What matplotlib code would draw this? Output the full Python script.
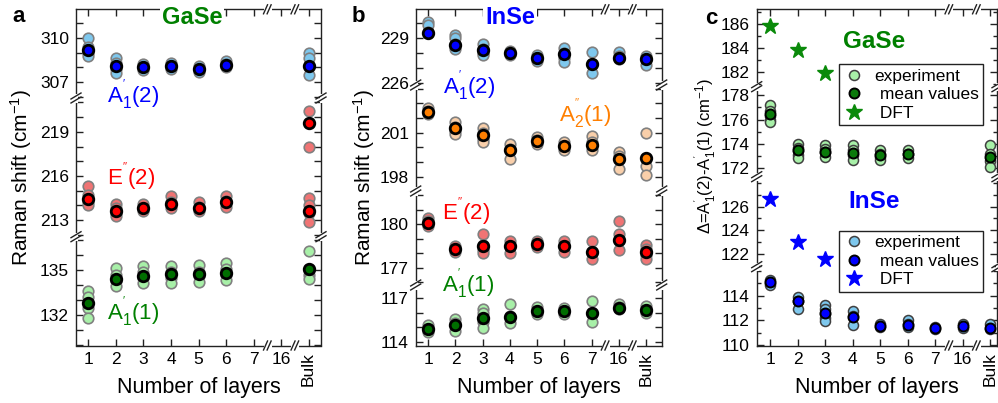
import matplotlib
matplotlib.use('Agg')
import matplotlib.pyplot as plt
from matplotlib.lines import Line2D
import numpy as np

plt.rcParams['font.family'] = ['Liberation Sans', 'DejaVu Sans']
plt.rcParams['mathtext.fontset'] = 'custom'
plt.rcParams['mathtext.rm'] = 'Liberation Sans'
plt.rcParams['mathtext.it'] = 'Liberation Sans:italic'
plt.rcParams['mathtext.bf'] = 'Liberation Sans:bold'

# ---------------- data ----------------
x_tick_labels = ['1', '2', '3', '4', '5', '6', '7', '16', 'Bulk']
x_tick_pos = [1, 2, 3, 4, 5, 6, 7, 8, 9]

gase_layers = [1, 2, 3, 4, 5, 6, 9]
inse_layers = [1, 2, 3, 4, 5, 6, 7, 8, 9]

# GaSe A1'(2)
gase_a12_exp = [[310.0, 309.4, 309.0, 308.8], [308.6, 308.3, 307.9, 307.6], [308.2, 308.0, 307.8],
                [308.3, 308.1, 307.9], [308.1, 307.9, 307.7], [308.4, 308.2, 308.0],
                [309.0, 308.6, 308.1, 307.5]]
gase_a12_mean = [309.2, 308.1, 308.0, 308.1, 307.9, 308.15, 308.1]
# GaSe E''(2)
gase_e2_exp = [[215.3, 214.7, 214.2, 214.0], [214.1, 213.8, 213.5, 213.3], [214.1, 213.8, 213.6],
               [214.65, 214.2, 213.8], [214.2, 213.9, 213.6], [214.65, 214.3, 213.9],
               [214.5, 214.0, 213.5, 212.9]]
gase_e2_mean = [214.45, 213.6, 213.85, 214.1, 213.8, 214.2, 213.6]
gase_e2_bulk_hi_exp = [220.45, 217.95]
gase_e2_bulk_hi_mean = 219.58
# GaSe A1'(1)
gase_a11_exp = [[133.6, 133.2, 132.5, 131.8], [135.15, 134.7, 134.3, 133.95], [135.3, 134.9, 134.5, 134.15],
                [135.3, 134.9, 134.5, 134.15], [135.35, 134.9, 134.6, 134.25], [135.5, 135.1, 134.7, 134.35],
                [136.3, 135.0, 134.7, 134.4]]
gase_a11_mean = [132.85, 134.45, 134.65, 134.75, 134.75, 134.85, 135.1]

# InSe A1'(2)
inse_a12_exp = [[230.1, 229.9, 229.4], [229.25, 229.0, 228.6, 228.3], [228.6, 228.3, 228.0, 227.9],
                [228.15, 228.0, 227.9], [227.9, 227.7, 227.5], [228.35, 228.0, 227.7, 227.45],
                [228.1, 227.3, 226.7], [228.1, 227.8, 227.6], [227.85, 227.6, 227.25]]
inse_a12_mean = [229.37, 228.55, 228.2, 228.0, 227.67, 227.93, 227.3, 227.72, 227.6]
# InSe A2''(1)
inse_a21_exp = [[202.65, 202.45, 202.3], [201.7, 201.4, 201.1, 200.9], [201.3, 201.0, 200.6, 200.35],
                [200.2, 199.9, 199.2], [200.7, 200.5, 200.25], [200.35, 200.1, 199.8],
                [200.8, 200.4, 199.8], [199.7, 199.4, 198.5], [201.0, 198.7, 198.15]]
inse_a21_mean = [202.43, 201.3, 200.85, 199.82, 200.43, 200.1, 200.17, 199.2, 199.3]
# InSe E''(2)
inse_e2_exp = [[180.45, 180.2, 179.9], [178.5, 178.3, 178.1], [179.3, 178.6, 178.2, 178.0],
               [178.85, 178.5, 178.0], [178.85, 178.6, 178.4], [178.85, 178.5, 178.1],
               [178.85, 178.0, 177.6], [180.2, 179.3, 178.9, 178.2], [178.6, 178.3, 177.9, 177.6]]
inse_e2_mean = [180.07, 178.28, 178.5, 178.5, 178.63, 178.5, 178.1, 178.9, 178.1]
# InSe A1'(1)
inse_a11_exp = [[115.2, 114.9, 114.65], [115.6, 115.3, 114.75], [116.25, 116.0, 115.4, 114.95],
                [116.6, 115.8, 115.3], [116.4, 116.1, 115.9], [116.35, 116.1, 115.95],
                [116.85, 115.9, 115.4], [116.6, 116.4, 116.3], [116.5, 116.2, 116.0]]
inse_a11_mean = [114.89, 115.17, 115.64, 115.75, 116.13, 116.13, 116.0, 116.37, 116.18]

# Panel c: Delta = A1'(2) - A1'(1)
gase_delta_exp = [[177.2, 176.7, 176.3, 176.0, 175.8], [174.0, 173.7, 173.4, 173.1, 172.85],
                  [173.9, 173.6, 173.3, 172.95], [173.9, 173.5, 173.1, 172.7],
                  [173.5, 173.2, 172.9, 172.7], [173.5, 173.2, 172.85],
                  [173.9, 173.2, 172.6, 172.1]]
gase_delta_mean = [176.42, 173.5, 173.36, 173.27, 173.08, 173.16, 172.94]
gase_dft_layers = [1, 2, 3]
gase_dft = [185.8, 183.8, 181.9]

inse_delta_exp = [[115.3, 115.05, 114.9], [113.9, 113.6, 112.97], [113.25, 112.9, 112.5, 112.2, 111.95],
                  [112.8, 112.4, 111.6], [111.7, 111.5], [112.0, 111.7, 111.5],
                  [111.5, 111.3], [111.7, 111.4], [111.75, 111.3]]
inse_delta_mean = [115.14, 113.57, 112.57, 112.3, 111.56, 111.67, 111.35, 111.54, 111.35]
inse_dft_layers = [1, 2, 3]
inse_dft = [126.6, 123.0, 121.6]

# ---------------- colours ----------------
c_blue_l, c_blue_d = '#7ec8ee', '#0000ff'
c_red_l, c_red_d = '#f07474', '#ff0000'
c_grn_l, c_grn_d = '#a8f0a8', '#006e00'
c_org_l, c_org_d = '#f9cfaa', '#ff7f00'
t_green, t_blue, t_red, t_orange = '#008000', '#0000ff', '#ff0000', '#ff7f00'

# ---------------- figure ----------------
W, H = 998, 403
fig = plt.figure(figsize=(W / 100, H / 100), dpi=100)


def fx(px):
    return px / W


def fy(py):
    return 1 - py / H


def pxline(xs, ys, **kw):
    fig.add_artist(Line2D([fx(x) for x in xs], [fy(y) for y in ys],
                          transform=fig.transFigure, **kw))


TICK_FS = 12.5


def make_panel(x0, x1, bounds, ylims, xlim, yticks, minor_step=1, minor_len=5):
    axes = []
    n = len(ylims)
    for i in range(n):
        ptop, pbot = bounds[i]
        ax = fig.add_axes([fx(x0), fy(pbot), (x1 - x0) / W, (pbot - ptop) / H])
        ax.set_facecolor('none')
        ax.set_xlim(xlim)
        ax.set_ylim(ylims[i])
        ax.set_yticks(yticks[i])
        lo, hi = ylims[i]
        ax.set_yticks(np.arange(np.ceil(lo), np.floor(hi) + 1, minor_step), minor=True)
        ax.set_xticks(x_tick_pos)
        ax.set_xticklabels(x_tick_labels)
        for lab in ax.get_xticklabels():
            if lab.get_text() == 'Bulk':
                lab.set_rotation(90)
                lab.set_fontsize(11)
        ax.tick_params(axis='both', which='both', direction='in', width=1.0,
                       labelsize=TICK_FS, color='#222222')
        ax.tick_params(axis='y', which='major', length=5, left=True, right=True, pad=5)
        ax.tick_params(axis='y', which='minor', length=minor_len, left=True, right=True)
        ax.tick_params(axis='x', which='major', length=5, pad=5,
                       top=(i == 0), bottom=(i == n - 1), labelbottom=(i == n - 1))
        for s in ax.spines.values():
            s.set_linewidth(1.0)
            s.set_color('#222222')
        if i > 0:
            ax.spines['top'].set_visible(False)
        if i < n - 1:
            ax.spines['bottom'].set_visible(False)
        axes.append(ax)
    # y breaks
    for i in range(n - 1):
        yb = bounds[i][1]
        for xs in (x0, x1):
            pxline([xs, xs], [yb - 2.6, yb + 2.6], color='white', lw=2.2, zorder=20)
            for d in (-2.0, 2.0):
                pxline([xs - 5, xs + 5], [yb + d + 3, yb + d - 3], color='#222222', lw=1.0, zorder=21)
    # x breaks
    for xv in (7.5, 8.5):
        xp = x0 + (xv - xlim[0]) / (xlim[1] - xlim[0]) * (x1 - x0)
        for yp in (bounds[0][0], bounds[-1][1]):
            pxline([xp - 2.6, xp + 2.6], [yp, yp], color='white', lw=2.2, zorder=20)
            for d in (-1.8, 1.8):
                pxline([xp + d - 2, xp + d + 2], [yp + 4.5, yp - 4.5], color='#222222', lw=1.0, zorder=21)
    return axes


def plot_mode(axes, layers, exp, mean, lc, dc, ms=7.6, edge='#808080', mew_l=1.2, mew_d=2.0):
    for ax in axes:
        for xp, vals in zip(layers, exp):
            ax.plot([xp] * len(vals), vals, 'o', ms=ms, mfc=lc, mec=edge, mew=mew_l,
                    ls='none', zorder=3, clip_on=True)
        ax.plot(layers, mean, 'o', ms=ms, mfc=dc, mec='black', mew=mew_d, ls='none', zorder=4)


# ---------- panel a ----------
ax_a = make_panel(76, 321, [(9.3, 98), (98, 236.7), (236.7, 345.5)],
                  [(305.95, 311.9), (211.87, 221.3), (130.0, 137.25)],
                  (0.55, 9.45), [[310, 307], [219, 216, 213], [135, 132]])
plot_mode(ax_a, gase_layers, gase_a12_exp, gase_a12_mean, c_blue_l, c_blue_d)
plot_mode(ax_a, gase_layers, gase_e2_exp, gase_e2_mean, c_red_l, c_red_d)
plot_mode(ax_a, [9], [gase_e2_bulk_hi_exp], [gase_e2_bulk_hi_mean], c_red_l, c_red_d)
plot_mode(ax_a, gase_layers, gase_a11_exp, gase_a11_mean, c_grn_l, c_grn_d)

# ---------- panel b ----------
ax_b = make_panel(415.7, 661.7, [(9.3, 85), (85, 191), (191, 285), (285, 345.5)],
                  [(225.89, 230.93), (197.03, 204.25), (175.8, 182.3), (113.75, 117.93)],
                  (0.537, 9.58), [[229, 226], [201, 198], [180, 177], [117, 114]])
plot_mode(ax_b, inse_layers, inse_a12_exp, inse_a12_mean, c_blue_l, c_blue_d)
plot_mode(ax_b, inse_layers, inse_a21_exp, inse_a21_mean, c_org_l, c_org_d)
plot_mode(ax_b, inse_layers, inse_e2_exp, inse_e2_mean, c_red_l, c_red_d)
plot_mode(ax_b, inse_layers, inse_a11_exp, inse_a11_mean, c_grn_l, c_grn_d)

# ---------- panel c ----------
ax_c = make_panel(756.7, 997, [(9.3, 86.7), (86.7, 176.7), (176.7, 266.7), (266.7, 345.5)],
                  [(180.8, 187.2), (171.3, 178.7), (120.96, 128.5), (109.97, 116.36)],
                  (0.516, 9.25), [[186, 184, 182], [178, 176, 174, 172], [126, 124, 122], [114, 112, 110]],
                  minor_step=1, minor_len=3)
plot_mode(ax_c, gase_layers, gase_delta_exp, gase_delta_mean, c_grn_l, '#0a7a0a',
          ms=7.2, edge='#404040', mew_l=1.1, mew_d=1.4)
plot_mode(ax_c, inse_layers, inse_delta_exp, inse_delta_mean, c_blue_l, c_blue_d,
          ms=7.2, edge='#404040', mew_l=1.1, mew_d=1.4)
for ax in ax_c:
    ax.plot(gase_dft_layers, gase_dft, '*', ms=12, color='#0a8a0a', mec='#0a8a0a', ls='none', zorder=5)
    ax.plot(inse_dft_layers, inse_dft, '*', ms=12, color='#0000ff', mec='#0000ff', ls='none', zorder=5)

# legends for panel c
def make_leg(lc, dc, sc, anchor):
    hs = [Line2D([], [], marker='o', ls='none', ms=7.2, mfc=lc, mec='#404040', mew=1.1),
          Line2D([], [], marker='o', ls='none', ms=7.2, mfc=dc, mec='black', mew=1.4),
          Line2D([], [], marker='*', ls='none', ms=12, color=sc)]
    leg = fig.legend(hs, ['experiment', ' mean values', ' DFT'], loc='upper left',
                     bbox_to_anchor=anchor, bbox_transform=fig.transFigure,
                     fontsize=12.5, frameon=True, fancybox=False, edgecolor='#222222',
                     framealpha=1, borderpad=0.25, labelspacing=0.2, handletextpad=0.6,
                     handlelength=1.2, borderaxespad=0)
    leg.get_frame().set_linewidth(1.0)
    leg.set_zorder(30)
    return leg

make_leg(c_grn_l, '#0a7a0a', '#0a8a0a', (fx(839), fy(64.3)))
make_leg(c_blue_l, c_blue_d, '#0000ff', (fx(839), fy(230.7)))

# ---------------- texts ----------------
MODE_FS = 16
fig.text(fx(133), fy(95), r"A$_1^{'}$(2)", color=t_blue, fontsize=MODE_FS, ha='center', va='center')
fig.text(fx(131), fy(176), r"E$^{''}$(2)", color=t_red, fontsize=MODE_FS, ha='center', va='center')
fig.text(fx(133), fy(312), r"A$_1^{'}$(1)", color=t_green, fontsize=MODE_FS, ha='center', va='center')

fig.text(fx(469), fy(86), r"A$_1^{'}$(2)", color=t_blue, fontsize=MODE_FS, ha='center', va='center')
fig.text(fx(585), fy(114), r"A$_2^{''}$(1)", color=t_orange, fontsize=MODE_FS, ha='center', va='center')
fig.text(fx(466), fy(211), r"E$^{''}$(2)", color=t_red, fontsize=MODE_FS, ha='center', va='center')
fig.text(fx(468), fy(284), r"A$_1^{'}$(1)", color=t_green, fontsize=MODE_FS, ha='center', va='center')

# titles on top spine
fig.text(fx(192), fy(17), 'GaSe', color=t_green, fontsize=17, fontweight='bold', ha='center', va='center',
         zorder=40, bbox=dict(facecolor='white', edgecolor='none', pad=1.5))
fig.text(fx(510), fy(17), 'InSe', color=t_blue, fontsize=17, fontweight='bold', ha='center', va='center',
         zorder=40, bbox=dict(facecolor='white', edgecolor='none', pad=1.5))
fig.text(fx(874), fy(42), 'GaSe', color=t_green, fontsize=17.5, fontweight='bold', ha='center', va='center')
fig.text(fx(874), fy(202), 'InSe', color=t_blue, fontsize=17.5, fontweight='bold', ha='center', va='center')

# panel letters
fig.text(fx(19), fy(17), 'a', fontsize=16, fontweight='bold', ha='center', va='center')
fig.text(fx(358), fy(17), 'b', fontsize=16, fontweight='bold', ha='center', va='center')
fig.text(fx(711), fy(19), 'c', fontsize=16, fontweight='bold', ha='center', va='center')

# axis labels
LAB_FS = 15.5
for xc in (198.5, 538.7, 877):
    fig.text(fx(xc), fy(388), 'Number of layers', fontsize=LAB_FS, ha='center', va='center')
fig.text(fx(21), fy(178), r'Raman shift (cm$^{-1}$)', fontsize=15, rotation=90, ha='center', va='center')
fig.text(fx(364), fy(178), r'Raman shift (cm$^{-1}$)', fontsize=15, rotation=90, ha='center', va='center')
fig.text(fx(705), fy(156), r"$\Delta$=A$_1^{'}$(2)-A$_1^{'}$(1) (cm$^{-1}$)", fontsize=12,
         rotation=90, ha='center', va='center')

fig.savefig('out.png', dpi=100)
